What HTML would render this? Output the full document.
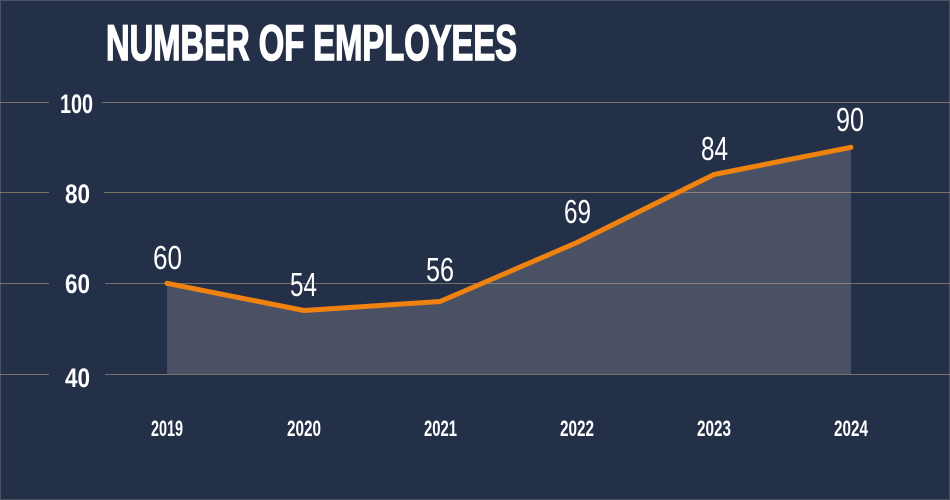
<!DOCTYPE html>
<html>
<head>
<meta charset="utf-8">
<style>
  html, body { margin: 0; padding: 0; background: #243048; }
  svg { display: block; }
</style>
</head>
<body>
<svg width="950" height="500" viewBox="0 0 950 500" xmlns="http://www.w3.org/2000/svg">
  <rect x="0" y="0" width="950" height="500" fill="#243048"/>
  <rect x="0.5" y="0.5" width="949" height="499" fill="none" stroke="#4a5366" stroke-width="1"/>

  <!-- area fill -->
  <polygon points="167,283.3 304,310.5 440,301.5 577,242.5 714,174.5 851,147.3 851,374 167,374" fill="#4a5164"/>

  <!-- gridlines -->
  <g stroke="rgb(200,180,130)" stroke-opacity="0.5" stroke-width="1">
    <line x1="0" y1="102.5" x2="49" y2="102.5"/>
    <line x1="102" y1="102.5" x2="950" y2="102.5"/>
    <line x1="0" y1="192.5" x2="49" y2="192.5"/>
    <line x1="104" y1="192.5" x2="950" y2="192.5"/>
    <line x1="0" y1="283.5" x2="49" y2="283.5"/>
    <line x1="105" y1="283.5" x2="950" y2="283.5"/>
    <line x1="0" y1="374.5" x2="49" y2="374.5"/>
    <line x1="105" y1="374.5" x2="950" y2="374.5"/>
  </g>

  <!-- line -->
  <polyline points="167,283.3 304,310.5 440,301.5 577,242.5 714,174.5 851,147.3" fill="none" stroke="#f0820f" stroke-width="5" stroke-linejoin="round" stroke-linecap="round"/>

  <!-- title -->
  <text x="106" y="60" font-family="Liberation Sans, sans-serif" font-weight="bold" font-size="50" fill="#ffffff" stroke="#ffffff" stroke-width="1.6" textLength="411" lengthAdjust="spacingAndGlyphs">NUMBER OF EMPLOYEES</text>

  <!-- y labels -->
  <g font-family="Liberation Sans, sans-serif" font-weight="bold" font-size="27" fill="#ffffff">
    <text x="60" y="113" textLength="33" lengthAdjust="spacingAndGlyphs">100</text>
    <text x="65" y="203" textLength="25" lengthAdjust="spacingAndGlyphs">80</text>
    <text x="65" y="293" textLength="25" lengthAdjust="spacingAndGlyphs">60</text>
    <text x="65" y="387" textLength="25" lengthAdjust="spacingAndGlyphs">40</text>
  </g>

  <!-- x labels -->
  <g font-family="Liberation Sans, sans-serif" font-weight="bold" font-size="22" fill="#ffffff">
    <text x="151" y="436" textLength="32" lengthAdjust="spacingAndGlyphs">2019</text>
    <text x="287" y="436" textLength="34" lengthAdjust="spacingAndGlyphs">2020</text>
    <text x="424" y="436" textLength="33" lengthAdjust="spacingAndGlyphs">2021</text>
    <text x="560" y="436" textLength="34" lengthAdjust="spacingAndGlyphs">2022</text>
    <text x="697" y="436" textLength="34" lengthAdjust="spacingAndGlyphs">2023</text>
    <text x="834" y="436" textLength="34" lengthAdjust="spacingAndGlyphs">2024</text>
  </g>

  <!-- data labels -->
  <g font-family="Liberation Sans, sans-serif" font-size="33" fill="#ffffff">
    <text x="153" y="269" textLength="29" lengthAdjust="spacingAndGlyphs">60</text>
    <text x="290" y="296" textLength="27" lengthAdjust="spacingAndGlyphs">54</text>
    <text x="426" y="281" textLength="28" lengthAdjust="spacingAndGlyphs">56</text>
    <text x="564" y="223" textLength="27" lengthAdjust="spacingAndGlyphs">69</text>
    <text x="701" y="160" textLength="27" lengthAdjust="spacingAndGlyphs">84</text>
    <text x="836" y="131" textLength="28" lengthAdjust="spacingAndGlyphs">90</text>
  </g>
</svg>
</body>
</html>
